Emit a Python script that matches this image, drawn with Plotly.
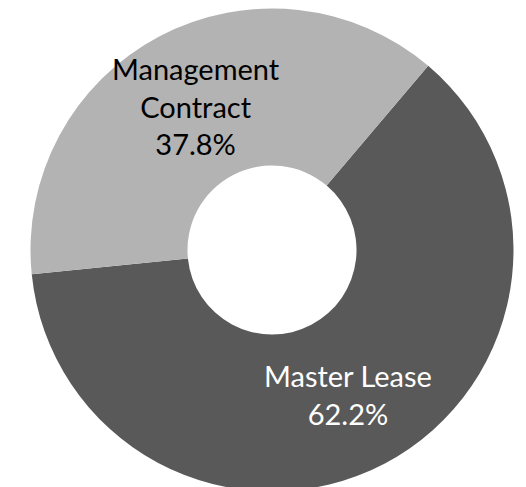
import math
import plotly.graph_objects as go

# contract type split
labels = ['Master Lease', 'Management<br>Contract']
values = [62.2, 37.8]
colors = ['#595959', '#b3b3b3']
text_colors = ['white', 'black']

W, H = 526, 487
hole = 0.35
rotation = 40.3
dom_x = [0.0428, 0.961]
dom_y = [0.007, 0.999]

fig = go.Figure(data=[go.Pie(labels=labels, values=values,
                             hole=hole, sort=False,
                             direction='clockwise', rotation=rotation,
                             marker=dict(colors=colors, line=dict(width=0)),
                             textinfo='none', hoverinfo='label+percent',
                             domain=dict(x=dom_x, y=dom_y))
                      ])

# labels at the middle of each ring segment
cx = (dom_x[0] + dom_x[1]) / 2
cy = (dom_y[0] + dom_y[1]) / 2
r_px = min(W * (dom_x[1] - dom_x[0]), H * (dom_y[1] - dom_y[0])) / 2
r_txt = r_px * (1 + hole) / 2
total = sum(values)
cum = 0
for lab, v, tc in zip(labels, values, text_colors):
    mid = math.radians(rotation + 360 * (cum + v / 2) / total)
    cum += v
    fig.add_annotation(x=cx + r_txt * math.sin(mid) / W,
                       y=cy + r_txt * math.cos(mid) / H,
                       xref='paper', yref='paper', showarrow=False,
                       text=f'{lab}<br>{v / total * 100:.1f}%',
                       font=dict(family='Lato', size=29, color=tc),
                       align='center', xanchor='center', yanchor='middle')

fig.update_layout(width=W, height=H, showlegend=False,
                  margin=dict(l=0, r=0, t=0, b=0),
                  paper_bgcolor='white', plot_bgcolor='white')
fig.write_html("out.html")
